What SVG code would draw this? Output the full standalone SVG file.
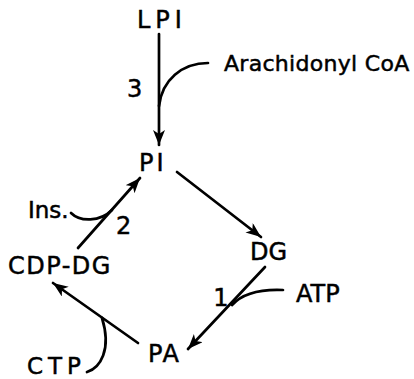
<svg xmlns="http://www.w3.org/2000/svg" width="414" height="379" viewBox="0 0 414 379">
  <style>
    text { font-family: "DejaVu Sans", "Liberation Sans", sans-serif; font-size: 24px; fill: #000; stroke: #000; stroke-width: 0.5; }
    text.s22 { font-size: 22px; }
    text.s23 { font-size: 23px; }
    .edge { fill: none; stroke: #000; stroke-width: 2.7; stroke-linecap: round; }
    .arrow { marker-end: url(#head); }
  </style>
  <defs>
    <marker id="head" markerUnits="userSpaceOnUse" markerWidth="18" markerHeight="14" refX="15" refY="6" orient="auto">
      <path d="M0,0 L15,6 L0,12 L4,6 z" fill="#000"/>
    </marker>
  </defs>
  <rect width="414" height="379" fill="#fff"/>

  <!-- metabolites -->
  <g id="node-LPI"><text x="137" y="28" letter-spacing="5">LPI</text></g>
  <g id="node-PI"><text x="139" y="171" letter-spacing="3">PI</text></g>
  <g id="node-DG"><text x="250" y="260">DG</text></g>
  <g id="node-PA"><text x="148" y="362" letter-spacing="1.5">PA</text></g>
  <g id="node-CDP-DG"><text x="8" y="274" letter-spacing="1.5">CDP-DG</text></g>

  <!-- co-substrates -->
  <g id="node-ArachidonylCoA"><text class="s22" x="224" y="71" letter-spacing="0.3">Arachidonyl CoA</text></g>
  <g id="node-ATP"><text x="296" y="302">ATP</text></g>
  <g id="node-CTP"><text class="s23" x="27" y="374" letter-spacing="5">CTP</text></g>
  <g id="node-Ins"><text class="s23" x="28" y="218">Ins.</text></g>

  <!-- enzyme step numbers -->
  <g id="label-3"><text x="127" y="97">3</text></g>
  <g id="label-2"><text x="116" y="234">2</text></g>
  <g id="label-1"><text x="221" y="306" text-anchor="middle">1</text></g>

  <g id="connectors">
    <!-- LPI to PI, with arachidonyl CoA joining -->
    <path class="edge arrow" d="M159,34 L159,145"/>
    <path class="edge" d="M208,63 C182,63 162,80 159,106"/>
    <!-- PI to DG -->
    <path class="edge arrow" d="M177,172 L261,237"/>
    <!-- DG to PA, with ATP joining -->
    <path class="edge arrow" d="M265,267 L188,349"/>
    <path class="edge" d="M283,290 C260,289 242,294 232,305"/>
    <!-- PA to CDP-DG, with CTP joining -->
    <path class="edge arrow" d="M138,343 L53,283"/>
    <path class="edge" d="M87,372 C100,368 112,350 102,318"/>
    <!-- CDP-DG to PI, with inositol joining -->
    <path class="edge arrow" d="M78,248 L140,178"/>
    <path class="edge" d="M71,213 C80,222 100,222 112,210"/>
  </g>
</svg>
